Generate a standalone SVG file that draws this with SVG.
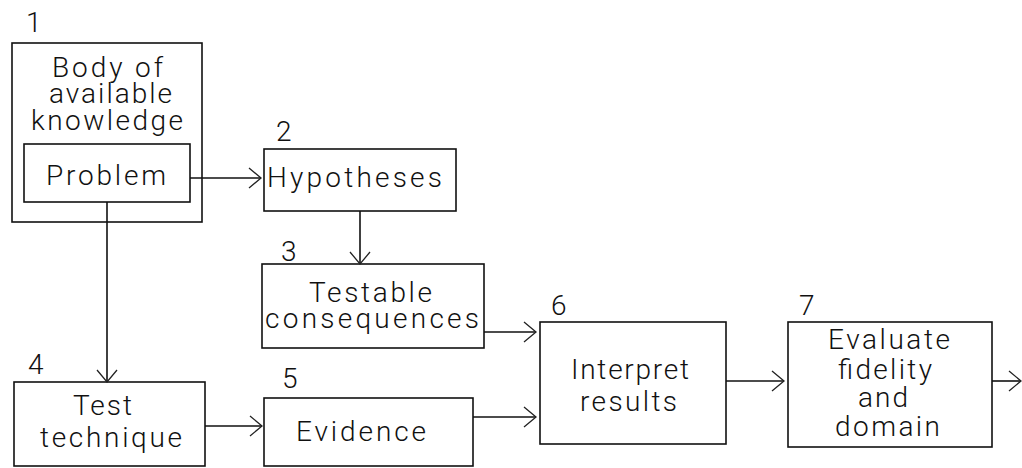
<svg xmlns="http://www.w3.org/2000/svg" width="1022" height="468" viewBox="0 0 1022 468">
  <style>
    .box { fill: none; stroke: #111; stroke-width: 1.6; }
    .lbl { font-family: Roboto, "Liberation Sans", "DejaVu Sans", sans-serif; font-weight: 300; font-size: 28px; fill: #111; }
    .num { font-family: Roboto, "Liberation Sans", "DejaVu Sans", sans-serif; font-weight: 300; font-size: 28px; fill: #111; }
    .wire { fill: none; stroke: #111; stroke-width: 1.6; marker-end: url(#head); }
  </style>
  <defs>
    <marker id="head" markerUnits="userSpaceOnUse" markerWidth="30" markerHeight="30" viewBox="-15 -15 30 30" refX="0" refY="0" orient="auto" overflow="visible">
      <path d="M-12,-10 L0,0 L-12,10" fill="none" stroke="#222" stroke-width="1.3"/>
    </marker>
  </defs>
  <rect width="1022" height="468" fill="#fff"/>

  <!-- 1: body of available knowledge, with the problem inside -->
  <g id="n1">
    <text class="num" x="26" y="32">1</text>
    <rect class="box" x="12" y="43" width="190" height="179"/>
    <text class="lbl" x="52" y="77" textLength="111" lengthAdjust="spacing">Body of</text>
    <text class="lbl" x="49" y="103" textLength="123" lengthAdjust="spacing">available</text>
    <text class="lbl" x="31" y="130" textLength="152" lengthAdjust="spacing">knowledge</text>
  </g>
  <g id="problem">
    <rect class="box" x="24" y="144" width="166" height="58"/>
    <text class="lbl" x="46" y="185" textLength="120" lengthAdjust="spacing">Problem</text>
  </g>

  <!-- 2 -->
  <g id="n2">
    <text class="num" x="276" y="141">2</text>
    <rect class="box" x="264" y="149" width="192" height="62"/>
    <text class="lbl" x="267" y="187" textLength="175" lengthAdjust="spacing">Hypotheses</text>
  </g>

  <!-- 3 -->
  <g id="n3">
    <text class="num" x="281" y="261">3</text>
    <rect class="box" x="262" y="264" width="222" height="84"/>
    <text class="lbl" x="309" y="302" textLength="123" lengthAdjust="spacing">Testable</text>
    <text class="lbl" x="265" y="328" textLength="214" lengthAdjust="spacing">consequences</text>
  </g>

  <!-- 4 -->
  <g id="n4">
    <text class="num" x="28" y="374">4</text>
    <rect class="box" x="14" y="382" width="191" height="84"/>
    <text class="lbl" x="73" y="415" textLength="59" lengthAdjust="spacing">Test</text>
    <text class="lbl" x="40" y="447" textLength="142" lengthAdjust="spacing">technique</text>
  </g>

  <!-- 5 -->
  <g id="n5">
    <text class="num" x="282" y="388">5</text>
    <rect class="box" x="264" y="398" width="209" height="68"/>
    <text class="lbl" x="296" y="441" textLength="130" lengthAdjust="spacing">Evidence</text>
  </g>

  <!-- 6 -->
  <g id="n6">
    <text class="num" x="551" y="315">6</text>
    <rect class="box" x="540" y="322" width="186" height="122"/>
    <text class="lbl" x="571" y="379" textLength="118" lengthAdjust="spacing">Interpret</text>
    <text class="lbl" x="580" y="411" textLength="97" lengthAdjust="spacing">results</text>
  </g>

  <!-- 7 -->
  <g id="n7">
    <text class="num" x="799" y="315">7</text>
    <rect class="box" x="788" y="322" width="204" height="125"/>
    <text class="lbl" x="828" y="349" textLength="122" lengthAdjust="spacing">Evaluate</text>
    <text class="lbl" x="838" y="379" textLength="94" lengthAdjust="spacing">fidelity</text>
    <text class="lbl" x="858" y="407" textLength="50" lengthAdjust="spacing">and</text>
    <text class="lbl" x="835" y="436" textLength="105" lengthAdjust="spacing">domain</text>
  </g>

  <!-- connectors -->
  <g id="connectors">
    <path class="wire" d="M190,178 H261"/>
    <path class="wire" d="M360,211 V264"/>
    <path class="wire" d="M107,202 V382"/>
    <path class="wire" d="M484,332 H536"/>
    <path class="wire" d="M205,426 H262"/>
    <path class="wire" d="M473,417 H536"/>
    <path class="wire" d="M726,381 H784"/>
    <path class="wire" d="M992,381 H1021"/>
  </g>
</svg>
